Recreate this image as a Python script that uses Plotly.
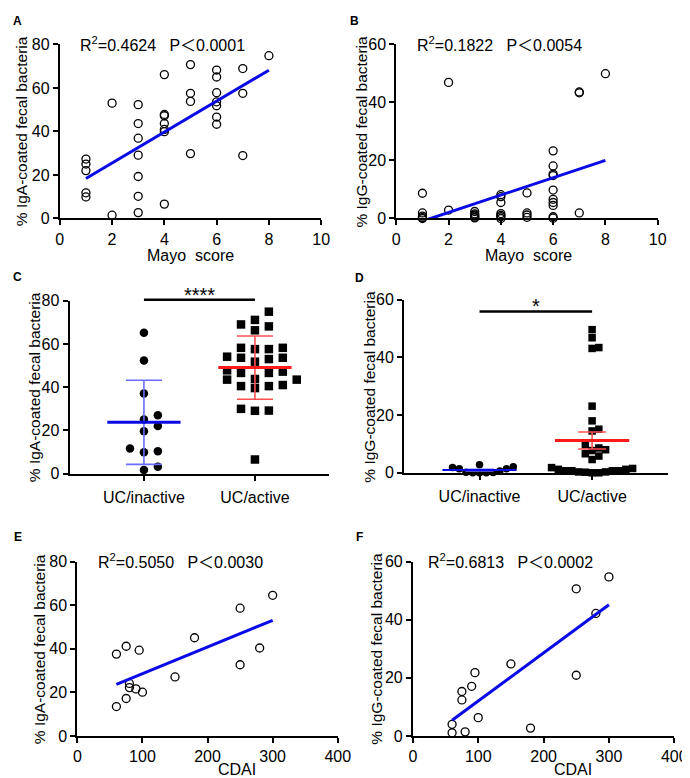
import numpy as np
import plotly.graph_objects as go

# ---- data ----
# A: Mayo score vs % IgA-coated fecal bacteria (UC)
mayo_a = [1, 1, 1, 1, 1, 2, 2, 3, 3, 3, 3, 3, 3, 3, 4, 4, 4, 4, 4, 4, 4,
          5, 5, 5, 5, 6, 6, 6, 6, 6, 6, 6, 7, 7, 7, 8]
iga_a = [27.3, 25.0, 22.0, 11.8, 9.9, 53.0, 1.5, 52.3, 43.6, 36.9, 29.1, 19.3, 10.2, 2.7,
         66.1, 47.8, 47.2, 43.6, 40.9, 39.9, 6.6, 70.7, 57.5, 53.8, 29.8,
         68.2, 65.0, 57.8, 53.6, 51.8, 46.6, 43.3, 68.9, 57.5, 28.9, 74.8]

# B: Mayo score vs % IgG-coated fecal bacteria (UC)
mayo_b = [1, 1, 1, 1, 1, 2, 2, 3, 3, 3, 3, 3, 3, 4, 4, 4, 4, 4, 4, 4,
          5, 5, 5, 5, 6, 6, 6, 6, 6, 6, 6, 6, 6, 6, 7, 7, 7, 8]
igg_b = [8.7, 1.9, 0.8, 0.3, 0.0, 46.9, 2.9, 2.4, 1.6, 1.2, 0.8, 0.4, 0.2,
         8.2, 7.5, 5.5, 1.7, 1.1, 0.6, 0.0, 8.8, 1.9, 1.2, 0.4,
         23.3, 18.1, 15.3, 14.8, 9.8, 6.6, 5.5, 4.5, 0.6, 0.1, 43.6, 43.3, 1.9, 49.9]

# C: IgA, UC inactive vs active
groups = ["UC/inactive", "UC/active"]
iga_inactive = [65.2, 52.3, 37.1, 25.1, 27.0, 19.7, 22.1, 10.4, 11.7, 9.9, 1.8, 3.2]
iga_active = [74.9, 71.1, 69.0, 68.1, 66.3, 58.2, 57.6, 58.2, 57.6, 53.0, 54.1, 53.6,
              51.8, 53.6, 46.6, 46.6, 47.2, 47.8, 43.5, 43.8, 43.5, 40.5, 41.0, 39.6,
              40.5, 29.2, 29.1, 30.0, 6.6]

# D: IgG, UC inactive vs active
igg_inactive = [0.1, 2.1, 1.4, 1.8, 0.0, 1.4, 2.8, 0.0, 0.2, 0.0, 0.6]
igg_active = [49.6, 46.8, 43.1, 43.4, 23.1, 18.0, 15.1, 14.5, 9.7, 8.6, 8.0, 7.7, 6.6,
              5.8, 4.6, 0.7, 1.8, 1.5, 0.7, 0.0, 1.2, 0.0, 0.7, 0.2, 0.7, 1.2, 0.3, 0.3]

# E/F: CDAI (CD)
cdai_e = [60, 75, 95, 180, 250, 300, 280, 250, 150, 80, 80, 90, 100, 75, 60]
iga_e = [37.6, 41.2, 39.4, 45.1, 58.7, 64.6, 40.4, 32.7, 27.1, 24.1, 22.2, 21.6, 20.1, 17.2, 13.5]
cdai_f = [300, 250, 280, 250, 150, 95, 90, 75, 75, 100, 60, 60, 80, 180]
igg_f = [54.8, 50.7, 42.2, 20.9, 24.8, 21.8, 17.1, 15.3, 12.4, 6.3, 4.0, 1.1, 1.4, 2.7]

stats_text = ["R<sup>2</sup>=0.4624   P＜0.0001", "R<sup>2</sup>=0.1822   P＜0.0054",
              "R<sup>2</sup>=0.5050   P＜0.0030", "R<sup>2</sup>=0.6813   P＜0.0002"]

W, H = 690, 778
FONT = "Arial, Liberation Sans, Noto Sans CJK SC, sans-serif"
BLUE = "#0a0ae6"
BLUE_LIGHT = "#6b6bff"
RED = "#ff1a1a"
RED_LIGHT = "#ff5050"


def px(x):
    return x / W


def py(y):
    return 1 - y / H


def swarm(vals, ppu_y, ppu_x, step, gap):
    """simple beeswarm: offsets (in x data units) so markers don't overlap"""
    order = sorted(range(len(vals)), key=lambda i: vals[i])
    placed = []
    out = [0.0] * len(vals)
    for i in order:
        k = 0
        for j in range(60):
            k = ((j + 1) // 2) * (1 if j % 2 else -1)
            if all((k - kk) ** 2 * step ** 2 + ((vals[i] - vv) * ppu_y) ** 2 >= gap ** 2
                   for kk, vv in placed):
                break
        placed.append((k, vals[i]))
        out[i] = k * step / ppu_x
    return out


# plot areas in pixels: x0, x1, ytop, ybottom
boxes = {
    "A": (49, 317, 29, 207),
    "B": (394, 662, 29, 207),
    "C": (59, 325, 291, 468),
    "D": (402, 673, 290, 467),
    "E": (67, 334, 558, 736),
    "F": (411, 679, 558, 736),
}

fig = go.Figure()


def scatter_panel(n, x, y):
    fig.add_trace(go.Scatter(
        x=x, y=y, mode="markers", xaxis="x%d" % n, yaxis="y%d" % n,
        marker=dict(symbol="circle-open", size=8, color="black", line=dict(width=1.3)),
        cliponaxis=False, showlegend=False, hoverinfo="skip"))
    m, b = np.polyfit(x, y, 1)
    xs = np.array([min(x), max(x)], dtype=float)
    fig.add_trace(go.Scatter(
        x=xs, y=m * xs + b, mode="lines", xaxis="x%d" % n, yaxis="y%d" % n,
        line=dict(color=BLUE, width=3), showlegend=False, hoverinfo="skip"))


scatter_panel(1, mayo_a, iga_a)
scatter_panel(2, mayo_b, igg_b)
scatter_panel(5, cdai_e, iga_e)
scatter_panel(6, cdai_f, igg_f)


def dot_panel(n, vals_in, vals_act, ppu_y, ppu_x, step, gap, size, err, half, cap):
    for c, vals, sym in ((1, vals_in, "circle"), (2, vals_act, "square")):
        off = swarm(vals, ppu_y, ppu_x, step, gap)
        fig.add_trace(go.Scatter(
            x=[c + o for o in off], y=vals, mode="markers",
            xaxis="x%d" % n, yaxis="y%d" % n,
            marker=dict(symbol=sym, size=size, color="black", line=dict(width=0)),
            cliponaxis=False, showlegend=False, hoverinfo="skip"))
    for c, vals, col, lcol, lw in ((1, vals_in, BLUE, BLUE_LIGHT, 3 if err == "sd" else 2),
                                   (2, vals_act, RED, RED_LIGHT, 3)):
        v = np.array(vals)
        mean = v.mean()
        sd = v.std(ddof=1)
        e = sd if err == "sd" else sd / np.sqrt(len(v))
        fig.add_trace(go.Scatter(
            x=[c], y=[mean], mode="markers", xaxis="x%d" % n, yaxis="y%d" % n,
            marker=dict(size=1, opacity=0),
            error_y=dict(type="data", array=[e], visible=True, color=lcol,
                         thickness=1.6, width=cap),
            showlegend=False, hoverinfo="skip"))
        fig.add_trace(go.Scatter(
            x=[c - half, c + half], y=[mean, mean], mode="lines",
            xaxis="x%d" % n, yaxis="y%d" % n,
            line=dict(color=col, width=lw), showlegend=False, hoverinfo="skip"))


dot_panel(3, iga_inactive, iga_active, 177 / 80, 114, 14.3, 9, 8.5, "sd", 0.33, 18)
dot_panel(4, igg_inactive, igg_active, 177 / 60, 115, 6.9, 6.5, 7.5, "sem", 0.33, 14)

axis_style = dict(showline=True, linecolor="black", linewidth=2, ticks="outside",
                  ticklen=5, tickwidth=2, tickcolor="black", showgrid=False,
                  zeroline=False, tickfont=dict(family=FONT, size=16, color="black"),
                  fixedrange=True)

specs = {
    1: ("A", [0, 10], 2, [0, 80]),
    2: ("B", [0, 10], 2, [0, 60]),
    3: ("C", [0.33, 2.667], None, [0, 80]),
    4: ("D", [0.33, 2.678], None, [0, 60]),
    5: ("E", [0, 400], 100, [0, 80]),
    6: ("F", [0, 400], 100, [0, 60]),
}
layout_axes = {}
for n, (key, xr, dt, yr) in specs.items():
    x0, x1, yt, yb = boxes[key]
    xa = dict(domain=[px(x0), px(x1)], anchor="y%d" % n, range=xr, **axis_style)
    if dt:
        xa["dtick"] = dt
        xa["tick0"] = 0
    else:
        xa.update(tickmode="array", tickvals=[1, 2], ticktext=groups,
                  ticklabelstandoff=3)
        xa["tickfont"] = dict(family=FONT, size=16, color="black")
    ya = dict(domain=[py(yb), py(yt)], anchor="x%d" % n, range=yr, dtick=20, tick0=0,
              **axis_style)
    layout_axes["xaxis" if n == 1 else "xaxis%d" % n] = xa
    layout_axes["yaxis" if n == 1 else "yaxis%d" % n] = ya

annotations = []


def text(x, y, s, size=15, bold=False, angle=0, xanchor="center"):
    annotations.append(dict(
        x=px(x), y=py(y), xref="paper", yref="paper", text="<b>%s</b>" % s if bold else s,
        showarrow=False, textangle=angle, xanchor=xanchor, yanchor="middle",
        font=dict(family=FONT, size=size, color="black")))


# panel letters
for s, x, y in (("A", 6, 5), ("B", 351, 5), ("C", 6, 267), ("D", 356, 268),
                ("E", 6, 533), ("F", 356, 533)):
    text(x, y, s, size=12, bold=True)

# y titles
iga_title = "% IgA-coated fecal bacteria"
igg_title = "% IgG-coated fecal bacteria"
for s, x, y in ((iga_title, 10, 118), (igg_title, 358, 118), (iga_title, 23, 379),
                (igg_title, 367, 379), (iga_title, 29, 647), (igg_title, 374, 647)):
    text(x, y, s, size=15.5, angle=-90)

# x titles
mayo = "Mayo\u00a0\u00a0score"
for s, x, y in ((mayo, 183, 245), (mayo, 530, 245), ("CDAI", 231, 770), ("CDAI", 575, 770)):
    text(x, y, s, size=16)

# statistics
for s, x, y in zip(stats_text, (68, 413, 86, 424), (29, 29, 557, 557)):
    text(x, y, s.replace(" ", "\u00a0"), size=16, xanchor="left")

# significance bars
shapes = []
for n, key, yv, star, sy in ((3, "C", 290, "****", 282), (4, "D", 302, "*", 293)):
    x0, x1, _, _ = boxes[key]
    r0, r1 = specs[n][1]
    to_px = lambda v: x0 + (v - r0) / (r1 - r0) * (x1 - x0)
    shapes.append(dict(type="line", xref="paper", yref="paper",
                       x0=px(to_px(1)), x1=px(to_px(2)), y0=py(yv), y1=py(yv),
                       line=dict(color="black", width=2.5)))
    text((to_px(1) + to_px(2)) / 2, sy + 3, star, size=20)

fig.update_layout(
    width=W, height=H, margin=dict(l=0, r=0, t=0, b=0),
    paper_bgcolor="white", plot_bgcolor="white",
    font=dict(family=FONT, size=15, color="black"),
    annotations=annotations, shapes=shapes, showlegend=False,
    **layout_axes)

fig.write_html("out.html")
